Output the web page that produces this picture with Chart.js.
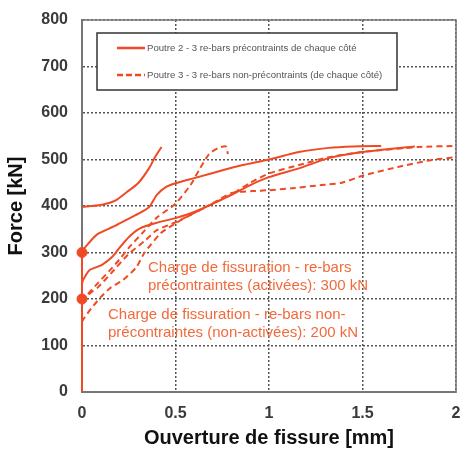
<!DOCTYPE html>
<html>
<head>
<meta charset="utf-8">
<script src="https://cdn.jsdelivr.net/npm/chart.js@4.4.1/dist/chart.umd.min.js"></script>
<style>
  html, body { margin: 0; padding: 0; background: #fff; }
  #wrap { width: 462px; height: 450px; }
</style>
</head>
<body>
<div id="wrap"><canvas id="crackChart" width="462" height="450"></canvas></div>
<script>
/* ====== DATA ====== */
const xTicks = [0, 0.5, 1, 1.5, 2];
const yTicks = [0, 100, 200, 300, 400, 500, 600, 700, 800];

// Poutre 2 - solid curves
const s1X = [0, 0.1, 0.18, 0.24, 0.30, 0.36, 0.39, 0.425];
const s1F = [398, 402, 412, 430, 449, 482, 505, 527];

const s2X = [0, 0, 0.04, 0.085, 0.17, 0.245, 0.31, 0.36, 0.40, 0.45, 0.5, 0.6, 0.78, 0.86, 1.0, 1.16, 1.32, 1.45, 1.6];
const s2F = [0, 300, 322, 340, 356, 372, 385, 398, 424, 441, 449, 460, 480, 488, 500, 516, 525, 528, 529];

const s3X = [0, 0, 0.005, 0.04, 0.105, 0.165, 0.2, 0.255, 0.31, 0.4, 0.5, 0.6, 0.78, 0.9, 1.0, 1.16, 1.32, 1.5, 1.78];
const s3F = [0, 230, 240, 262, 273, 292, 310, 335, 352, 364, 374, 387, 420, 445, 462, 481, 503, 516, 528];

// Poutre 3 - dashed curves
const d1X = [0, 0, 0.03, 0.08, 0.15, 0.2, 0.25, 0.33, 0.4, 0.5, 0.58, 0.63, 0.68, 0.73, 0.77, 0.78];
const d1F = [0, 190, 210, 232, 262, 285, 310, 345, 375, 405, 445, 480, 512, 525, 528, 512];

const d2X = [0, 0, 0.02, 0.085, 0.155, 0.245, 0.335, 0.4, 0.5, 0.6, 0.7, 0.8, 0.9, 1.0, 1.16, 1.32, 1.5, 1.8, 2.0];
const d2F = [0, 190, 205, 225, 255, 295, 325, 348, 365, 385, 405, 425, 450, 470, 488, 505, 516, 527, 529];

const d3X = [0, 0, 0.015, 0.05, 0.1, 0.155, 0.22, 0.29, 0.335, 0.42, 0.5, 0.6, 0.7, 0.8, 0.91, 1.0, 1.12, 1.28, 1.39, 1.5, 1.69, 1.87, 2.0];
const d3F = [0, 150, 161, 180, 204, 225, 241, 268, 300, 341, 363, 385, 406, 428, 432, 434, 438, 445, 450, 465, 484, 499, 505];

// cracking loads
const crackX = [0, 0];
const crackF = [300, 200];

const legendLabels = [
    "Poutre 2 - 3 re-bars précontraints de chaque côté",
    "Poutre 3 - 3 re-bars non-précontraints (de chaque côté)"
];
const noteActive = ["Charge de fissuration - re-bars", "précontraintes (activées): 300 kN"];
const notePassive = ["Charge de fissuration - re-bars non-", "précontraintes (non-activées): 200 kN"];

const RED = "#ef4a24";
const NOTE = "#f26a3c";
const FONT = "'Liberation Sans', Arial, sans-serif";

function pts(xs, ys) {
    return xs.map((x, i) => ({ x: x, y: ys[i] }));
}

function curve(xs, ys, dashed) {
    return {
        data: pts(xs, ys),
        showLine: true,
        borderColor: RED,
        borderWidth: 2,
        borderDash: dashed ? [6, 4] : [],
        pointRadius: 0,
        tension: 0.2,
        clip: 6
    };
}

/* ====== FRAME, LEGEND + NOTES PLUGIN ====== */
const overlay = {
    id: "overlay",
    beforeDatasetsDraw(chart) {
        const a = chart.chartArea;
        const c = chart.ctx;
        c.save();
        c.strokeStyle = "#777";
        c.lineWidth = 1.5;
        c.strokeRect(a.left, a.top, a.right - a.left, a.bottom - a.top);
        c.restore();
    },
    afterDatasetsDraw(chart) {
        const c = chart.ctx;
        c.save();
        // legend box
        c.fillStyle = "#fff";
        c.fillRect(97, 33, 300, 57);
        c.strokeStyle = "#333";
        c.lineWidth = 1.5;
        c.strokeRect(97, 33, 300, 57);
        c.strokeStyle = RED;
        c.lineWidth = 2.5;
        c.beginPath(); c.moveTo(117, 48); c.lineTo(145, 48); c.stroke();
        c.setLineDash([6, 3]);
        c.beginPath(); c.moveTo(117, 75); c.lineTo(145, 75); c.stroke();
        c.setLineDash([]);
        c.fillStyle = "#555";
        c.font = "9.6px " + FONT;
        c.textBaseline = "middle";
        c.fillText(legendLabels[0], 147, 48);
        c.fillText(legendLabels[1], 147, 75);
        // notes
        c.fillStyle = NOTE;
        c.font = "15px " + FONT;
        c.fillText(noteActive[0], 148, 268);
        c.fillText(noteActive[1], 148, 286);
        c.fillText(notePassive[0], 108, 315);
        c.fillText(notePassive[1], 108, 333);
        c.restore();
    }
};

/* ====== CHART ====== */
Chart.defaults.font.family = FONT;
Chart.defaults.color = "#3a3a3a";

const gridStyle = { color: "#555", lineWidth: 1.5, tickLength: 0, drawTicks: false };

new Chart(document.getElementById("crackChart"), {
    type: "scatter",
    data: {
        datasets: [
            curve(s1X, s1F, false),
            curve(s2X, s2F, false),
            curve(s3X, s3F, false),
            curve(d1X, d1F, true),
            curve(d2X, d2F, true),
            curve(d3X, d3F, true),
            {
                data: pts(crackX, crackF),
                backgroundColor: RED,
                borderColor: RED,
                pointRadius: 5,
                clip: false
            }
        ]
    },
    options: {
        responsive: false,
        animation: false,
        layout: { padding: { top: 20, right: 4 } },
        plugins: { legend: { display: false }, tooltip: { enabled: false } },
        scales: {
            x: {
                type: "linear",
                min: 0,
                max: 2,
                afterBuildTicks: (ax) => { ax.ticks = xTicks.map(v => ({ value: v })); },
                afterFit: (ax) => { ax.height = 58; ax.paddingRight = 0; ax.paddingLeft = 0; },
                border: { color: "#777", width: 2, dash: [2, 2] },
                grid: gridStyle,
                ticks: { font: { size: 16, weight: "bold" }, padding: 12, maxRotation: 0, callback: (v) => String(v) },
                title: { display: true, text: "Ouverture de fissure [mm]", font: { size: 20, weight: "bold" }, color: "#111", padding: { top: 0, bottom: 0 } }
            },
            y: {
                type: "linear",
                min: 0,
                max: 800,
                afterBuildTicks: (ax) => { ax.ticks = yTicks.map(v => ({ value: v })); },
                afterFit: (ax) => { ax.width = 82; ax.paddingTop = 0; ax.paddingBottom = 0; },
                border: { color: "#777", width: 2, dash: [2, 2] },
                grid: gridStyle,
                ticks: { font: { size: 16, weight: "bold" }, padding: 14, callback: (v) => String(v) },
                title: { display: true, text: "Force [kN]", font: { size: 20, weight: "bold" }, color: "#111", padding: { top: 4, bottom: 0 } }
            }
        }
    },
    plugins: [overlay]
});
</script>
</body>
</html>
